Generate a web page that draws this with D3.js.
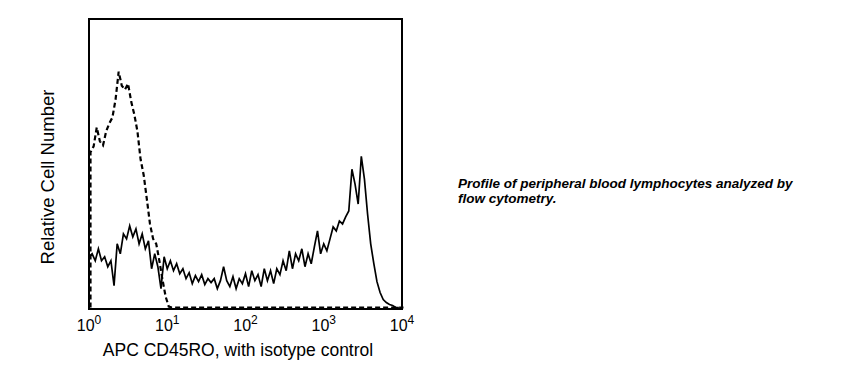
<!DOCTYPE html>
<html>
<head>
<meta charset="utf-8">
<script src="https://cdn.jsdelivr.net/npm/d3@7/dist/d3.min.js"></script>
<style>
  html, body { margin: 0; padding: 0; background: #fff; }
  svg { display: block; }
  text { font-family: Arial, "Liberation Sans", sans-serif; fill: #000; }
</style>
</head>
<body>
<svg id="chart" width="868" height="380"></svg>
<script>
// Channel positions in decades (log10 of fluorescence), one per histogram bin
const channelStep = 0.04;
const channels = d3.range(0, 4, channelStep);

// CD45RO-stained lymphocytes (solid line), relative counts per channel
const cd45ro = [
  51, 54, 47, 59, 47, 51, 41, 47, 22, 64,
  54, 74, 69, 82, 71, 79, 64, 74, 59, 67,
  39, 54, 41, 19, 51, 39, 47, 37, 44, 34,
  39, 29, 35, 24, 32, 26, 33, 23, 29, 25,
  29, 19, 27, 41, 27, 21, 31, 19, 29, 24,
  34, 21, 37, 27, 33, 21, 39, 27, 37, 24,
  39, 33, 47, 37, 57, 39, 54, 47, 59, 41,
  54, 44, 61, 77, 54, 64, 57, 69, 81, 77,
  87, 84, 91, 97, 139, 124, 104, 152, 129, 94,
  64, 44, 26, 15, 8, 5, 3, 2, 0, 0
];

// Isotype control (dashed line), relative counts per channel
const isotype = [
  156, 162, 181, 167, 163, 177, 185, 191, 209, 237,
  223, 219, 225, 207, 194, 177, 149, 133, 109, 84,
  69, 64, 47, 28, 11, 1, 0, 0, 0, 0,
  0, 0, 0, 0, 0, 0, 0, 0, 0, 0,
  0, 0, 0, 0, 0, 0, 0, 0, 0, 0,
  0, 0, 0, 0, 0, 0, 0, 0, 0, 0,
  0, 0, 0, 0, 0, 0, 0, 0, 0, 0,
  0, 0, 0, 0, 0, 0, 0, 0, 0, 0,
  0, 0, 0, 0, 0, 0, 0, 0, 0, 0,
  0, 0, 0, 0, 0, 0, 0, 0, 0, 0
];

// Axis tick labels (decade exponents)
const tickExponents = [0, 1, 2, 3, 4];

const xTitle = "APC CD45RO, with isotype control";
const yTitle = "Relative Cell Number";
const captionLines = [
  "Profile of peripheral blood lymphocytes analyzed by",
  "flow cytometry."
];

const svg = d3.select("#chart");
const plot = { left: 89, right: 402, top: 19, bottom: 309 };

const x = d3.scaleLinear().domain([0, 4]).range([plot.left, plot.right]);
const y = d3.scaleLinear().domain([0, 290]).range([plot.bottom - 1.5, plot.top]);

const solidData = channels.map((c, i) => ({ c: c, v: cd45ro[i] }));
const isoData = [{ c: 0, v: 0 }].concat(channels.map((c, i) => ({ c: c, v: isotype[i] })));
isoData.push({ c: 4, v: 0 });

const line = d3.line()
  .x(d => x(d.c))
  .y(d => y(d.v))
  .curve(d3.curveLinear);

const g = svg.append("g");

// isotype (dashed)
g.append("path")
  .datum(isoData)
  .attr("d", line)
  .attr("fill", "none")
  .attr("stroke", "#000")
  .attr("stroke-width", 2.2)
  .attr("stroke-dasharray", "5,3")
  .attr("transform", "translate(1.5,0)");

// CD45RO (solid)
g.append("path")
  .datum(solidData)
  .attr("d", line)
  .attr("fill", "none")
  .attr("stroke", "#000")
  .attr("stroke-width", 1.7)
  .attr("stroke-linejoin", "miter");

// frame
svg.append("rect")
  .attr("x", plot.left)
  .attr("y", plot.top)
  .attr("width", plot.right - plot.left)
  .attr("height", plot.bottom - plot.top)
  .attr("fill", "none")
  .attr("stroke", "#000")
  .attr("stroke-width", 2);

// x tick labels 10^n
const labels = svg.append("g");
tickExponents.forEach(e => {
  const t = labels.append("text")
    .attr("x", x(e))
    .attr("y", 331)
    .attr("text-anchor", "middle")
    .style("font-size", "16px");
  t.append("tspan").text("10");
  t.append("tspan")
    .attr("dy", -7)
    .style("font-size", "12px")
    .text(e);
});

// axis titles
svg.append("text")
  .attr("x", 238)
  .attr("y", 356)
  .attr("text-anchor", "middle")
  .style("font-size", "17.5px")
  .text(xTitle);

svg.append("text")
  .attr("transform", "translate(54,177) rotate(-90)")
  .attr("text-anchor", "middle")
  .style("font-size", "18.5px")
  .text(yTitle);

// caption
const cap = svg.append("text")
  .attr("x", 458)
  .attr("y", 188)
  .style("font-size", "13.5px")
  .style("font-weight", "bold")
  .style("font-style", "italic");
captionLines.forEach((l, i) => {
  cap.append("tspan")
    .attr("x", 458)
    .attr("dy", i === 0 ? 0 : 15)
    .text(l);
});
</script>
</body>
</html>
